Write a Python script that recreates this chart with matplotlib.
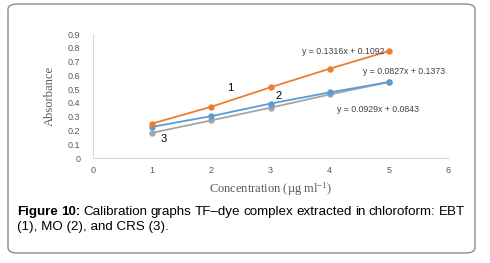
import matplotlib
matplotlib.use("Agg")
import matplotlib.pyplot as plt
from matplotlib.patches import FancyBboxPatch

plt.rcParams["mathtext.fontset"] = "custom"
plt.rcParams["mathtext.rm"] = "Liberation Serif"
plt.rcParams["mathtext.it"] = "Liberation Serif:italic"
plt.rcParams["mathtext.bf"] = "Liberation Serif:bold"

conc = [1, 2, 3, 4, 5]
ebt = [0.25, 0.372, 0.513, 0.648, 0.776]
mo = [0.226, 0.304, 0.395, 0.476, 0.551]
crs = [0.183, 0.273, 0.365, 0.461, 0.551]
eq_labels = ["y = 0.1316x + 0.1092", "y = 0.0827x + 0.1373", "y = 0.0929x + 0.0843"]
series_ids = ["1", "2", "3"]
yticks = [0, 0.1, 0.2, 0.3, 0.4, 0.5, 0.6, 0.7, 0.8, 0.9]
xticks = [0, 1, 2, 3, 4, 5, 6]

W, H = 490, 263
fig = plt.figure(figsize=(W / 100, H / 100), dpi=100)
fig.patch.set_facecolor("white")

border = FancyBboxPatch((8 / W, 1 - 253 / H), (475 - 8) / W, (253 - 4) / H,
                        boxstyle="round,pad=0,rounding_size=0.02",
                        transform=fig.transFigure, facecolor="none",
                        edgecolor="#8c8c8c", linewidth=1.0)
fig.patches.append(border)

ax = fig.add_axes([93 / W, 1 - 158 / H, (448 - 93) / W, (158 - 34) / H])
ax.set_xlim(0, 6)
ax.set_ylim(0, 0.9)
for s in ["top", "right"]:
    ax.spines[s].set_visible(False)
for s in ["left", "bottom"]:
    ax.spines[s].set_color("#d9d9d9")
    ax.spines[s].set_linewidth(0.8)

narrow = ["Liberation Sans Narrow", "Liberation Sans", "DejaVu Sans"]
ax.set_yticks(yticks)
ax.set_yticklabels([f"{v:g}" for v in yticks], family=narrow, fontsize=6.5, color="#595959")
ax.set_xticks(xticks)
ax.set_xticklabels([str(v) for v in xticks], family=narrow, fontsize=6.5, color="#595959")
ax.tick_params(axis="y", length=0, pad=9)
ax.tick_params(axis="x", length=0, pad=6)

colors = ["#ED7D31", "#5B9BD5", "#A5A5A5"]
for ys, c in [(crs, colors[2]), (mo, colors[1]), (ebt, colors[0])]:
    ax.plot(conc, ys, color=c, lw=1.3, marker="o", ms=3.6, zorder=3)

ax.set_xlabel("Concentration (µg ml$^{-1}$)", family="Liberation Serif", fontsize=9,
              color="#595959", labelpad=4)
ax.set_ylabel("Absorbance", family="Liberation Serif", fontsize=9, color="#595959",
              labelpad=9)

def fig_text(x, y, s, **kw):
    fig.text(x / W, 1 - y / H, s, **kw)

eq_kw = dict(family=narrow, fontsize=6.3, color="#404040", ha="center", va="center")
fig_text(343, 52, eq_labels[0], **eq_kw)
fig_text(404, 72, eq_labels[1], **eq_kw)
fig_text(378, 109, eq_labels[2], **eq_kw)

num_kw = dict(family=["Liberation Sans", "DejaVu Sans"], fontsize=8, color="black",
              ha="center", va="center")
fig_text(230, 88, series_ids[0], **num_kw)
fig_text(279, 96, series_ids[1], **num_kw)
fig_text(164, 139, series_ids[2], **num_kw)

cap_size = 9.6
cap_family = "Liberation Sans"
line1 = [("Figure", "bold"), ("10:", "bold"), ("Calibration", "normal"), ("graphs", "normal"),
         ("TF–dye", "normal"), ("complex", "normal"), ("extracted", "normal"), ("in", "normal"),
         ("chloroform:", "normal"), ("EBT", "normal")]
left, right = 17, 465
y1, y2 = 212, 227
renderer = fig.canvas.get_renderer()
texts = []
widths = []
for w, wt in line1:
    t = fig.text(0, 1 - y1 / H, w, family=cap_family, fontsize=cap_size, fontweight=wt,
                 color="black", va="center", ha="left")
    bb = t.get_window_extent(renderer=renderer)
    texts.append(t)
    widths.append(bb.width)
gap = (right - left - sum(widths)) / (len(widths) - 1)
x = left
for t, wd in zip(texts, widths):
    t.set_x(x / W)
    x += wd + gap
fig_text(left, y2, "(1), MO (2), and CRS (3).", family=cap_family, fontsize=cap_size,
         color="black", va="center", ha="left")

fig.savefig("out.png", dpi=100, facecolor="white")
